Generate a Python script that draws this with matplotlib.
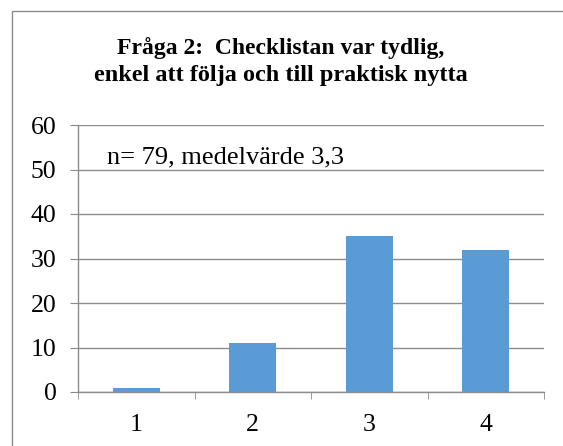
import matplotlib
matplotlib.use('Agg')
import matplotlib.pyplot as plt
from matplotlib.patches import Rectangle

categories = ['1', '2', '3', '4']
counts = [1, 11, 35, 32]
title_lines = ['Fråga 2:  Checklistan var tydlig,', 'enkel att följa och till praktisk nytta']
note = 'n= 79, medelvärde 3,3'

plt.rcParams['font.family'] = ['Liberation Serif', 'DejaVu Serif']

fig = plt.figure(figsize=(5.63, 4.46), dpi=100)
fig.patch.set_facecolor('white')

# chart frame, runs off the right and bottom edges
fig.patches.append(Rectangle((12 / 563, -0.05), 1.0, (446 - 11) / 446 + 0.05,
                             transform=fig.transFigure, fill=False,
                             edgecolor='#8c8c8c', linewidth=1.0))

ax = fig.add_axes([78 / 563, 54 / 446, 466 / 563, 267 / 446])
x = list(range(len(categories)))
ax.bar(x, counts, width=0.4, color='#5b9bd5', zorder=3)

ax.set_xlim(-0.5, 3.5)
ax.set_ylim(0, 60)
ax.set_yticks(range(0, 61, 10))
ax.set_xticks(x)
ax.set_xticklabels(categories)
ax.set_xticks([i - 0.5 for i in range(5)], minor=True)

ax.grid(axis='y', color='#8c8c8c', linewidth=1.0, zorder=0)
for s in ['top', 'right']:
    ax.spines[s].set_visible(False)
for s in ['left', 'bottom']:
    ax.spines[s].set_color('#8c8c8c')
    ax.spines[s].set_linewidth(1.0)

ax.tick_params(axis='y', length=5.5, color='#8c8c8c', labelsize=18.5, pad=10)
ax.tick_params(axis='x', which='major', length=0, labelsize=18.5, pad=16)
ax.tick_params(axis='x', which='minor', length=5, color='#8c8c8c')

fig.text(281 / 563, 1 - 48 / 446, title_lines[0], ha='center', va='center',
         fontsize=17, fontweight='bold')
fig.text(281 / 563, 1 - 76 / 446, title_lines[1], ha='center', va='center',
         fontsize=17.5, fontweight='bold')
fig.text(107 / 563, 1 - 157 / 446, note, ha='left', va='center', fontsize=19)

fig.savefig('out.png', dpi=100)
